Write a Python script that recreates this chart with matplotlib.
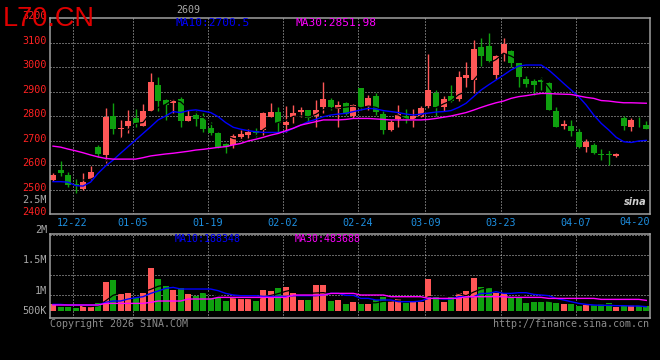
import numpy as np
import pandas as pd
import matplotlib
matplotlib.use("Agg")
import matplotlib.pyplot as plt
from matplotlib.transforms import ScaledTranslation, blended_transform_factory

# ---------------- data ----------------
opens = [2539, 2580, 2560, 2522, 2503, 2542, 2675, 2641, 2800, 2746,
         2759, 2792, 2761, 2822, 2927, 2865, 2852, 2868, 2780, 2804,
         2790, 2752, 2732, 2684, 2682, 2713, 2724, 2740, 2743, 2795,
         2816, 2765, 2797, 2818, 2825, 2800, 2838, 2865, 2829, 2854,
         2800, 2916, 2835, 2883, 2808, 2743, 2786, 2800, 2784, 2797,
         2841, 2895, 2838, 2882, 2868, 2956, 2947, 3080, 3086, 2967,
         3053, 3065, 3015, 2951, 2943, 2947, 2933, 2820, 2759, 2759,
         2735, 2675, 2682, 2645, 2643, 2637, 2790, 2756, 2777, 2763]
highs = [2569, 2616, 2571, 2542, 2566, 2597, 2680, 2831, 2855, 2784,
         2825, 2827, 2849, 2976, 2958, 2868, 2871, 2876, 2825, 2820,
         2811, 2774, 2736, 2688, 2725, 2743, 2746, 2750, 2816, 2854,
         2838, 2841, 2845, 2838, 2826, 2865, 2940, 2872, 2861, 2858,
         2849, 2916, 2886, 2895, 2822, 2784, 2845, 2827, 2827, 2841,
         3053, 2906, 2883, 2927, 2984, 3019, 3110, 3117, 3137, 3049,
         3117, 3069, 3015, 2963, 2950, 2958, 2940, 2838, 2784, 2784,
         2750, 2705, 2691, 2664, 2661, 2650, 2800, 2790, 2797, 2781]
lows = [2536, 2555, 2509, 2487, 2500, 2540, 2631, 2607, 2727, 2712,
        2732, 2757, 2758, 2820, 2822, 2784, 2814, 2757, 2780, 2759,
        2736, 2722, 2670, 2650, 2668, 2702, 2705, 2713, 2722, 2795,
        2736, 2736, 2773, 2797, 2777, 2754, 2814, 2825, 2756, 2804,
        2790, 2824, 2824, 2804, 2727, 2739, 2754, 2773, 2754, 2795,
        2831, 2800, 2822, 2858, 2863, 2920, 2895, 3004, 3015, 2950,
        3026, 3001, 2920, 2920, 2886, 2906, 2824, 2754, 2746, 2718,
        2668, 2654, 2645, 2620, 2600, 2631, 2743, 2740, 2756, 2747]
closes = [2559, 2569, 2518, 2517, 2530, 2573, 2645, 2797, 2747, 2751,
          2780, 2770, 2820, 2940, 2861, 2844, 2865, 2780, 2800, 2789,
          2747, 2729, 2672, 2675, 2718, 2727, 2733, 2732, 2814, 2818,
          2770, 2776, 2814, 2826, 2793, 2825, 2869, 2835, 2845, 2808,
          2845, 2831, 2875, 2818, 2743, 2777, 2808, 2789, 2800, 2834,
          2906, 2838, 2869, 2861, 2961, 2967, 3073, 3045, 3024, 3045,
          3094, 3015, 2961, 2931, 2927, 2940, 2824, 2756, 2767, 2740,
          2675, 2694, 2650, 2642, 2642, 2645, 2760, 2784, 2774, 2747]
ma10 = [2532, 2532, 2530, 2516, 2514, 2530, 2566, 2596, 2620, 2648,
        2675, 2702, 2729, 2756, 2784, 2800, 2818, 2814, 2822, 2825,
        2820, 2814, 2797, 2773, 2754, 2746, 2740, 2736, 2733, 2733,
        2733, 2736, 2750, 2763, 2777, 2786, 2797, 2804, 2808, 2811,
        2818, 2825, 2831, 2829, 2822, 2818, 2814, 2808, 2804, 2808,
        2812, 2816, 2818, 2822, 2835, 2852, 2879, 2906, 2927, 2947,
        2967, 2988, 3004, 3008, 3008, 3008, 2988, 2961, 2933, 2906,
        2879, 2845, 2804, 2770, 2743, 2713, 2695, 2692, 2698, 2700.5]
ma30 = [2677, 2673, 2665, 2658, 2650, 2641, 2633, 2627, 2624, 2624,
        2624, 2624, 2630, 2637, 2641, 2645, 2648, 2652, 2656, 2661,
        2664, 2668, 2672, 2675, 2682, 2688, 2698, 2705, 2713, 2722,
        2729, 2740, 2750, 2763, 2770, 2777, 2784, 2784, 2784, 2786,
        2790, 2790, 2790, 2788, 2786, 2784, 2784, 2784, 2784, 2784,
        2786, 2790, 2795, 2800, 2807, 2814, 2824, 2835, 2845, 2854,
        2861, 2872, 2879, 2883, 2888, 2892, 2892, 2890, 2889, 2888,
        2882, 2876, 2872, 2863, 2861, 2857, 2854, 2854, 2853, 2852]
volume_k = [167, 92, 92, 75, 125, 125, 192, 717, 767, 408,
            442, 308, 433, 1075, 792, 617, 517, 558, 417, 375,
            450, 308, 325, 242, 308, 350, 308, 242, 517, 492,
            575, 600, 442, 267, 267, 642, 642, 242, 267, 167,
            217, 167, 167, 275, 350, 242, 292, 192, 242, 225,
            792, 350, 217, 350, 450, 492, 817, 592, 558, 433,
            450, 325, 325, 192, 217, 217, 233, 192, 167, 167,
            117, 142, 133, 158, 192, 100, 108, 142, 142, 108]
vol_ma10_k = [158, 158, 142, 142, 142, 142, 142, 208, 242, 242,
              292, 325, 350, 433, 492, 558, 583, 542, 542, 542,
              542, 542, 500, 433, 392, 375, 375, 375, 358, 358,
              358, 358, 375, 375, 375, 375, 392, 433, 433, 383,
              383, 308, 308, 267, 267, 267, 225, 225, 225, 242,
              308, 308, 292, 292, 350, 350, 350, 433, 433, 475,
              433, 433, 450, 450, 408, 392, 375, 308, 267, 225,
              183, 158, 142, 133, 133, 125, 125, 117, 117, 100]
vol_ma30_k = [142, 142, 142, 142, 142, 142, 142, 183, 183, 183,
              183, 183, 183, 208, 242, 242, 242, 242, 292, 292,
              292, 292, 333, 333, 333, 333, 333, 333, 333, 333,
              333, 333, 392, 392, 392, 392, 392, 433, 433, 433,
              433, 392, 392, 392, 392, 350, 350, 350, 350, 350,
              308, 308, 308, 308, 308, 350, 350, 350, 350, 350,
              350, 333, 333, 333, 333, 333, 308, 308, 308, 308,
              308, 308, 308, 283, 283, 283, 283, 283, 283, 258]
tick_idx = [3, 11, 21, 31, 41, 50, 60, 70, 79]
tick_lab = ["12-22", "01-05", "01-19", "02-02", "02-24", "03-09", "03-23", "04-07", "04-20"]
price_ticks = [2400, 2500, 2600, 2700, 2800, 2900, 3000, 3100, 3200]

# ---------------- styling ----------------
RED = "#FF5757"
GREEN = "#0FA00F"
BLUE = "#0000FF"
MAG = "#FF00FF"
GRID = "#C8C8C8"
FRAME = "#A0A0A0"
LBLGRAY = "#A8A8A8"
DATEBLUE = "#1E8FE0"
MONO = "DejaVu Sans Mono"

W, H = 660, 360
fig = plt.figure(figsize=(W / 100, H / 100), dpi=100, facecolor="black")


def rect(l, t, r, b):
    return [l / W, 1 - b / H, (r - l) / W, (b - t) / H]


def ftext(xp, yp, s, **kw):
    fig.text(xp / W, 1 - yp / H, s, **kw)


ax = fig.add_axes(rect(50, 18, 649.5, 214))
axv = fig.add_axes(rect(50, 234.3, 649.5, 318.3))

o = np.array(opens, float)
h = np.array(highs, float)
l = np.array(lows, float)
c = np.array(closes, float)
x = np.arange(len(c))
colors = np.where(c >= o, RED, GREEN)

for a in (ax, axv):
    a.set_facecolor("black")
    a.set_xlim(-0.4, 79.43)
    for sp in a.spines.values():
        sp.set_color(FRAME)
        sp.set_linewidth(1.1)
    a.tick_params(length=0)
    for ti in tick_idx[:-1]:
        a.axvline(ti - 0.4, color=GRID, lw=0.72, ls=(0, (1, 2)), zorder=1)

# ---- main price panel ----
ax.set_ylim(2400, 3200)
for p in price_ticks[1:-1]:
    ax.axhline(p, color=GRID, lw=0.72, ls=(0, (1, 2)), zorder=1)

ax.vlines(x, l, h, colors=colors, lw=1.0, zorder=2)
body_bottom = np.minimum(o, c)
body_h = np.maximum(np.abs(c - o), 3)
ax.bar(x, body_h, bottom=body_bottom, width=0.8, color=colors, linewidth=0, zorder=2)

ma5 = pd.Series(c).rolling(5).mean()
ax.plot(x, ma5, color="black", lw=0.9, zorder=3)
ax.plot(x, ma10, color=BLUE, lw=1.0, zorder=4)
ax.plot(x, ma30, color=MAG, lw=1.0, zorder=4)

ax.set_yticks(price_ticks)
ax.set_yticklabels([str(p) for p in price_ticks], color="#FF2222", fontsize=7.3, family=MONO)
ax.tick_params(axis="y", pad=2.2)
for lbl in ax.get_yticklabels():
    lbl.set_transform(lbl.get_transform() + ScaledTranslation(0, 2 / 72, fig.dpi_scale_trans))

ax.set_xticks([ti - 0.4 for ti in tick_idx[:-1]])
ax.set_xticklabels(tick_lab[:-1], color=DATEBLUE, fontsize=7.3, family=MONO)
ax.tick_params(axis="x", pad=3)
ax.text(1.0, -0.0395, tick_lab[-1], transform=ax.transAxes, ha="right", va="center",
        color=DATEBLUE, fontsize=7.3, family=MONO)

# ---- volume panel ----
vol = np.array(volume_k, float) * 1000
axv.set_ylim(-190000, 1910000)
for gv in (385000, 885000, 1385000, 1885000):
    axv.axhline(gv, color=GRID, lw=0.72, ls=(0, (1, 2)), zorder=1)
axv.bar(x, vol, width=0.8, color=colors, linewidth=0, zorder=2)
vma5 = pd.Series(vol).rolling(5).mean()
axv.plot(x, vma5, color="black", lw=0.9, zorder=3)
axv.plot(x, np.array(vol_ma10_k) * 1000, color=BLUE, lw=1.0, zorder=4)
axv.plot(x, np.array(vol_ma30_k) * 1000, color=MAG, lw=1.0, zorder=4)
axv.set_xticks([])
axv.set_yticks([])

# ---- texts ----
ftext(3, 26, "L70.CN", color="#E00000", fontsize=19.5, family="Liberation Sans", va="baseline", ha="left")
ftext(176.5, 10, "2609", color=LBLGRAY, fontsize=7.2, family=MONO, va="center", ha="left")
ftext(175, 23.3, "MA10:2700.5", color=BLUE, fontsize=8, family=MONO, va="center", ha="left")
ftext(295, 23.3, "MA30:2851.98", color=MAG, fontsize=8, family=MONO, va="center", ha="left")
ftext(47, 200, "2.5M", color=LBLGRAY, fontsize=7.3, family=MONO, va="center", ha="right")
ftext(47, 230, "2M", color=LBLGRAY, fontsize=7.3, family=MONO, va="center", ha="right")
ftext(47, 260, "1.5M", color=LBLGRAY, fontsize=7.3, family=MONO, va="center", ha="right")
ftext(47, 290.7, "1M", color=LBLGRAY, fontsize=7.3, family=MONO, va="center", ha="right")
ftext(47, 310.7, "500K", color=LBLGRAY, fontsize=7.3, family=MONO, va="center", ha="right")
ftext(175, 238.5, "MA10:188348", color=BLUE, fontsize=7.1, family=MONO, va="center", ha="left")
ftext(295, 238.5, "MA30:483688", color=MAG, fontsize=7.1, family=MONO, va="center", ha="left")
ftext(50, 324, "Copyright 2026 SINA.COM", color="#8C8C8C", fontsize=7.2, family=MONO, va="center", ha="left")
ftext(649.3, 324, "http://finance.sina.com.cn", color="#8C8C8C", fontsize=7.2, family=MONO, va="center", ha="right")
ftext(647, 202, "sina", color="#D0D0D0", fontsize=7, family="DejaVu Sans", style="italic",
      weight="bold", va="center", ha="right")

fig.savefig("out.png", dpi=100, facecolor="black")
